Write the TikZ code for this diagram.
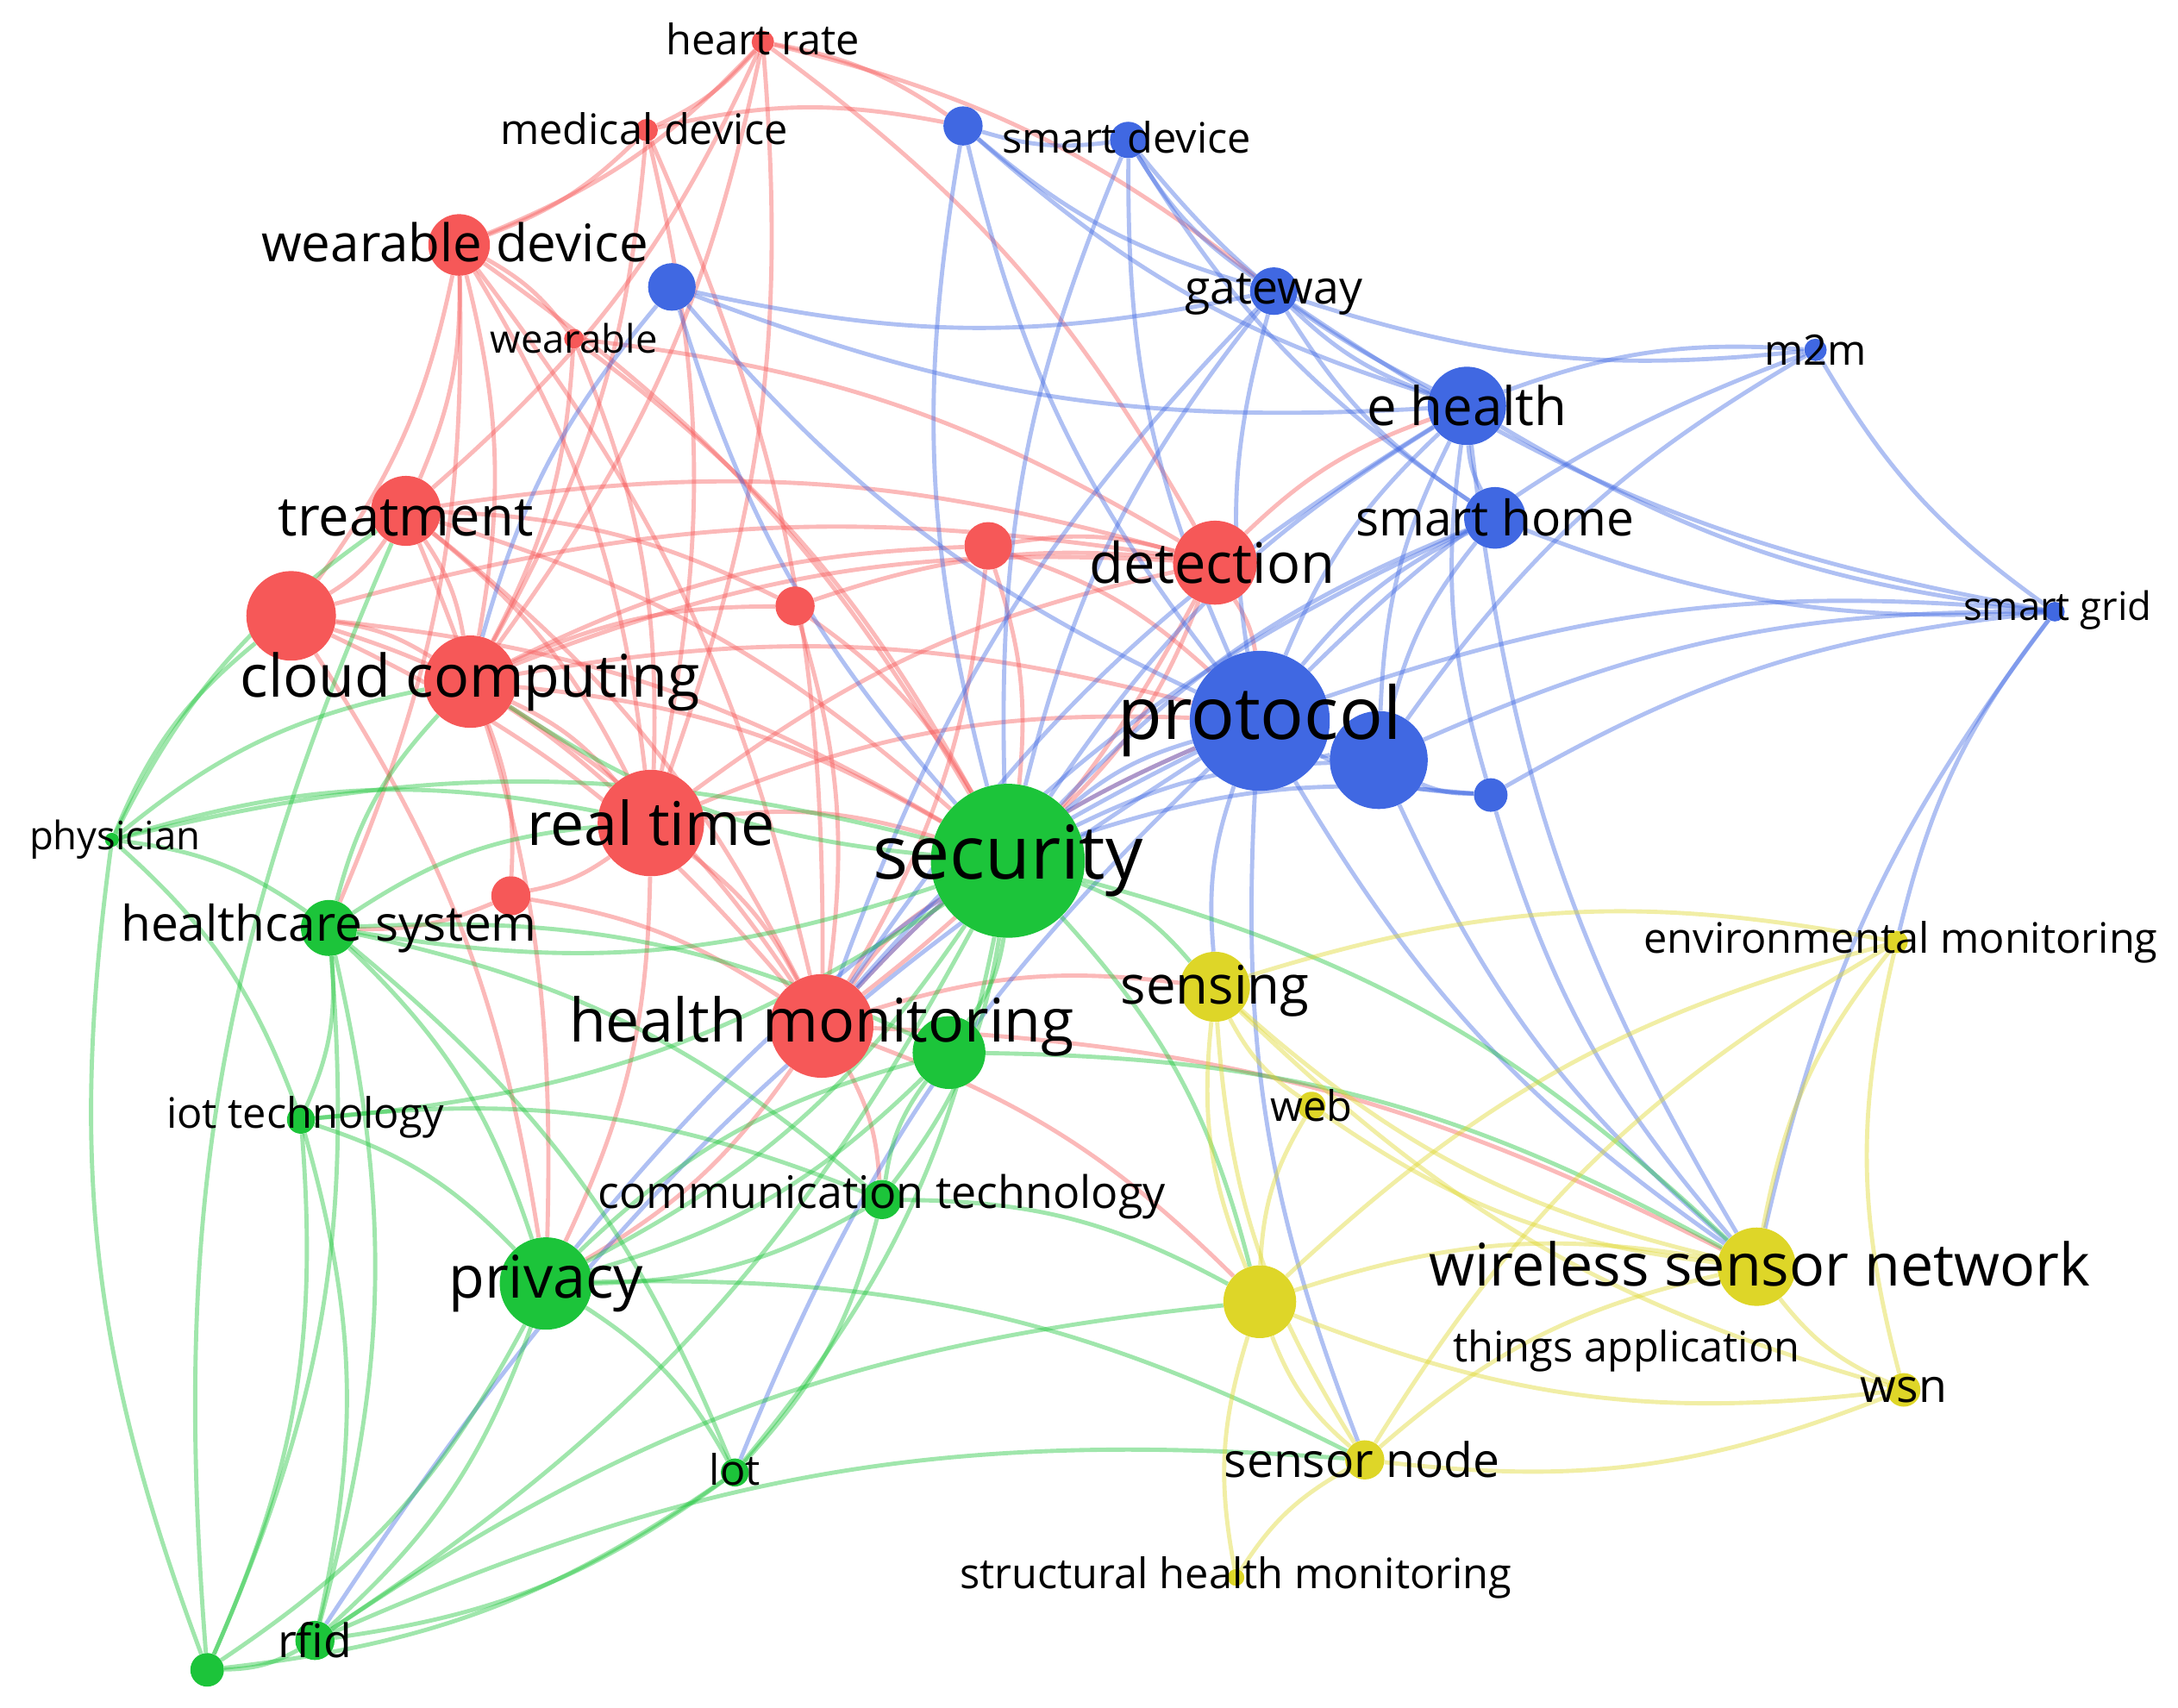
\documentclass[tikz,border=0pt]{standalone}
\usepackage{fontspec}
\setmainfont{Open Sans}
\begin{document}
\pgfdeclarelayer{bg}\pgfsetlayers{bg,main}
\definecolor{cR}{RGB}{246,88,88}
\definecolor{cB}{RGB}{64,104,226}
\definecolor{cG}{RGB}{28,196,58}
\definecolor{cY}{RGB}{222,214,40}
\begin{tikzpicture}[x=1pt,y=-1pt,
  bub/.style={circle,fill=#1,inner sep=0pt,draw=none},
  ed/.style={draw=#1,line width=3pt,opacity=0.42},
  lb/.style={inner sep=0pt,text=black,font=\fontsize{#1}{#1}\selectfont}]
\useasboundingbox (0,0) rectangle (1556,1220);
% red
\node[bub=cR,minimum size=16] (hr) at (545,30) {};
\node[bub=cR,minimum size=16] (md) at (462,93) {};
\node[bub=cR,minimum size=44] (wd) at (328,175) {};
\node[bub=cR,minimum size=14] (w) at (410,242) {};
\node[bub=cR,minimum size=50] (tr) at (290,365) {};
\node[bub=cR,minimum size=64] (big) at (208,440) {};
\node[bub=cR,minimum size=66] (cc) at (336,487) {};
\node[bub=cR,minimum size=28] (r3) at (568,433) {};
\node[bub=cR,minimum size=34] (r2) at (706,390) {};
\node[bub=cR,minimum size=60] (det) at (868,402) {};
\node[bub=cR,minimum size=76] (rt) at (465,588) {};
\node[bub=cR,minimum size=28] (r4) at (365,640) {};
\node[bub=cR,minimum size=74] (hm) at (587,733) {};
% blue
\node[bub=cB,minimum size=28] (sd1) at (688,90) {};
\node[bub=cB,minimum size=26] (sd2) at (806,100) {};
\node[bub=cB,minimum size=34] (b1) at (480,205) {};
\node[bub=cB,minimum size=34] (gw) at (910,208) {};
\node[bub=cB,minimum size=16] (m2m) at (1297,250) {};
\node[bub=cB,minimum size=56] (eh) at (1048,290) {};
\node[bub=cB,minimum size=44] (sh) at (1068,370) {};
\node[bub=cB,minimum size=14] (sg) at (1468,437) {};
\node[bub=cB,minimum size=100] (prot) at (900,515) {};
\node[bub=cB,minimum size=70] (b2) at (985,543) {};
\node[bub=cB,minimum size=24] (b3) at (1065,568) {};
% green
\node[bub=cG,minimum size=10] (phys) at (80,600) {};
\node[bub=cG,minimum size=110] (sec) at (720,615) {};
\node[bub=cG,minimum size=40] (hs) at (235,663) {};
\node[bub=cG,minimum size=52] (g1) at (678,752) {};
\node[bub=cG,minimum size=20] (iot) at (215,800) {};
\node[bub=cG,minimum size=28] (comm) at (630,857) {};
\node[bub=cG,minimum size=66] (priv) at (390,917) {};
\node[bub=cG,minimum size=20] (lot) at (525,1052) {};
\node[bub=cG,minimum size=28] (rfid) at (225,1172) {};
\node[bub=cG,minimum size=24] (g2) at (148,1193) {};
% yellow
\node[bub=cY,minimum size=16] (env) at (1355,673) {};
\node[bub=cY,minimum size=50] (sens) at (868,705) {};
\node[bub=cY,minimum size=20] (web) at (937,790) {};
\node[bub=cY,minimum size=56] (wsn) at (1255,905) {};
\node[bub=cY,minimum size=52] (y1) at (900,930) {};
\node[bub=cY,minimum size=24] (wsnn) at (1360,993) {};
\node[bub=cY,minimum size=28] (snode) at (975,1043) {};
\node[bub=cY,minimum size=12] (shm) at (883,1127) {};
\begin{pgfonlayer}{bg}
\foreach \a/\b in {hr/md,hr/wd,hr/tr,hr/cc,hr/rt,hr/det,hr/sd1,md/wd,md/cc,md/rt,md/hm,wd/tr,wd/cc,wd/big,wd/rt,wd/hm,wd/w,wd/sec,w/cc,w/rt,w/det,tr/big,tr/cc,tr/rt,tr/hm,tr/det,tr/sec,tr/r3,big/cc,big/rt,big/hm,big/sec,big/det,cc/rt,cc/hm,cc/sec,cc/det,cc/prot,cc/r2,cc/r3,cc/r4,rt/hm,rt/sec,rt/det,rt/prot,rt/r4,rt/priv,r2/det,r2/prot,r2/sec,r3/det,r3/sec,det/prot,det/sec,det/hm,det/eh,hm/sec,hm/prot,hm/priv,hm/wsn,hm/sens,hm/y1,hm/comm,r4/hm,r4/hs,tr/priv,big/priv,wd/hs,md/sd1,hr/gw,w/sec,r2/hm,r3/hm}
  \draw[ed=cR] (\a) to[bend left=12] (\b);
\foreach \a/\b in {sd1/sd2,sd1/gw,sd1/eh,sd1/prot,sd1/sec,sd2/gw,sd2/eh,sd2/prot,sd2/sh,b1/gw,b1/prot,b1/sec,b1/eh,b1/cc,gw/eh,gw/sh,gw/prot,gw/sec,gw/m2m,gw/sg,m2m/eh,m2m/prot,m2m/sg,m2m/b2,eh/sh,eh/prot,eh/b2,eh/sg,eh/sec,eh/b3,sh/prot,sh/sg,sh/b2,sh/sec,sg/prot,sg/b2,sg/b3,sg/wsn,sg/env,prot/b2,prot/b3,prot/sec,prot/hm,prot/priv,prot/sens,prot/wsn,prot/snode,prot/lot,b2/sec,b2/wsn,b2/b3,b3/wsn,b3/sec,prot/rfid,eh/wsn,sd2/sec,gw/hm,eh/hm,sh/hm}
  \draw[ed=cB] (\a) to[bend right=12] (\b);
\foreach \a/\b in {phys/hs,phys/cc,phys/sec,phys/rt,phys/tr,phys/iot,sec/hs,sec/g1,sec/comm,sec/priv,sec/lot,sec/rfid,sec/iot,sec/sens,sec/wsn,sec/y1,hs/iot,hs/priv,hs/comm,hs/rfid,hs/g2,hs/g1,hs/lot,iot/priv,iot/rfid,iot/g2,iot/comm,comm/priv,comm/lot,comm/g1,priv/lot,priv/rfid,priv/g2,priv/g1,lot/rfid,lot/g2,rfid/g2,rfid/y1,rfid/snode,g2/tr,g1/wsn,comm/y1,priv/snode,g2/phys,phys/big,hs/rt,hs/cc,g1/priv,sec/cc}
  \draw[ed=cG] (\a) to[bend left=14] (\b);
\foreach \a/\b in {env/sens,env/wsn,env/y1,sens/web,sens/wsn,sens/y1,sens/snode,web/wsn,web/y1,wsn/y1,wsn/wsnn,wsn/snode,y1/snode,y1/shm,y1/wsnn,snode/shm,snode/wsnn,env/snode,env/wsnn,sens/wsnn}
  \draw[ed=cY] (\a) to[bend right=14] (\b);
\end{pgfonlayer}
\node[lb=30] (l1) at (545,28) {heart rate};
\node[lb=30] (l2) at (460,92) {medical device};
\node[lb=37] (l3) at (325,173) {wearable device};
\node[lb=28] (l4) at (410,242) {wearable};
\node[lb=39] (l5) at (290,370) {treatment};
\node[lb=42] (l6) at (336,487) {cloud computing};
\node[lb=40] (l7) at (866,402) {detection};
\node[lb=43] (l8) at (465,588) {real time};
\node[lb=43] (l9) at (587,733) {health monitoring};
\node[lb=30] (l10) at (805,98) {smart device};
\node[lb=33] (l11) at (910,210) {gateway};
\node[lb=30] (l12) at (1297,250) {m2m};
\node[lb=38] (l13) at (1048,290) {e health};
\node[lb=35] (l14) at (1068,370) {smart home};
\node[lb=28] (l15) at (1470,436) {smart grid};
\node[lb=52] (l16) at (900,515) {protocol};
\node[lb=28] (l17) at (82,600) {physician};
\node[lb=53] (l18) at (720,615) {security};
\node[lb=35] (l19) at (235,663) {healthcare system};
\node[lb=30] (l20) at (218,798) {iot technology};
\node[lb=32] (l21) at (630,855) {communication technology};
\node[lb=42] (l22) at (390,917) {privacy};
\node[lb=30] (l23) at (525,1050) {lot};
\node[lb=33] (l24) at (225,1172) {rfid};
\node[lb=30] (l25) at (1358,673) {environmental monitoring};
\node[lb=38] (l26) at (868,708) {sensing};
\node[lb=30] (l27) at (937,790) {web};
\node[lb=42] (l28) at (1257,903) {wireless sensor network};
\node[lb=30] (l29) at (1162,965) {things application};
\node[lb=33] (l30) at (1360,993) {wsn};
\node[lb=34] (l31) at (973,1043) {sensor node};
\node[lb=30] (l32) at (883,1127) {structural health monitoring};
\end{tikzpicture}
\end{document}
